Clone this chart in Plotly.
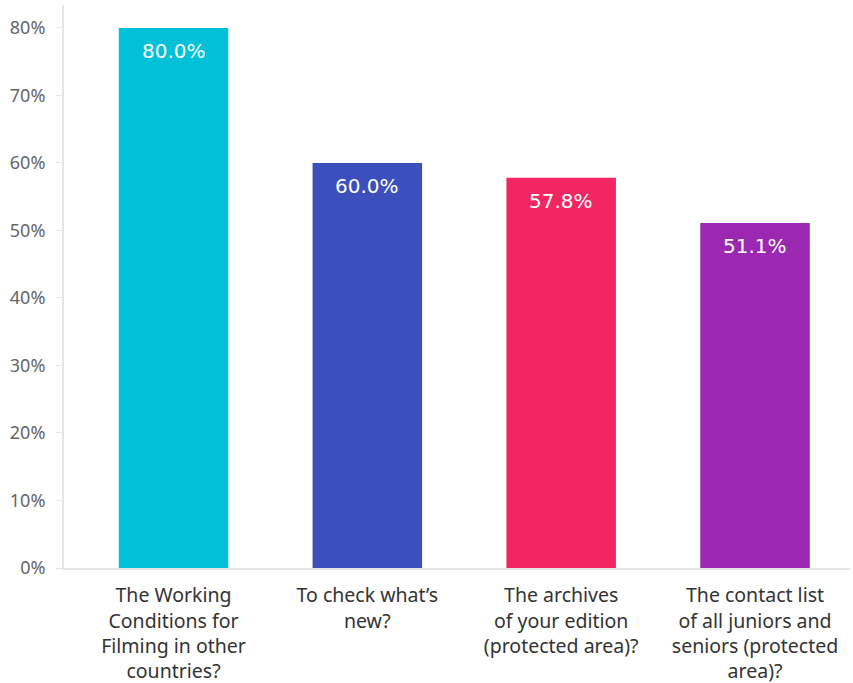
import plotly.graph_objects as go

categories = [
    "The Working<br>Conditions for<br>Filming in other<br>countries?",
    "To check what’s<br>new?",
    "The archives<br>of your edition<br>(protected area)?",
    "The contact list<br>of all juniors and<br>seniors (protected<br>area)?",
]
values = [80.0, 60.0, 57.8, 51.1]
colors = ["#00C1D8", "#3B4FBD", "#F22762", "#9C27B0"]
y_ticks = [0, 10, 20, 30, 40, 50, 60, 70, 80]
y_tick_labels = [f"{t}%" for t in y_ticks]

x_idx = list(range(len(categories)))

fig = go.Figure()
fig.add_trace(go.Bar(
    x=x_idx,
    y=values,
    marker=dict(color=colors, line=dict(width=0)),
    width=0.565,
    hoverinfo="skip",
))

for i, v in zip(x_idx, values):
    fig.add_annotation(
        x=i, y=v, text=f"{v:.1f}%", showarrow=False,
        yanchor="top", yshift=-9,
        font=dict(family="DejaVu Sans", size=20, color="white"),
    )

fig.update_layout(
    width=853, height=683,
    margin=dict(l=64, r=3, t=5, b=115),
    plot_bgcolor="white", paper_bgcolor="white",
    showlegend=False,
    bargap=0.4,
)
fig.update_xaxes(
    tickmode="array", tickvals=x_idx, ticktext=categories,
    range=[-0.565, 3.49],
    showline=True, linecolor="#E6E6E6", linewidth=2,
    showgrid=False, zeroline=False, ticks="",
    ticklabelstandoff=9, automargin=False,
    tickfont=dict(family="Noto Sans", size=19.5, color="#333333"),
)
fig.update_yaxes(
    tickmode="array", tickvals=y_ticks, ticktext=y_tick_labels,
    range=[0, 83.4],
    showline=True, linecolor="#E6E6E6", linewidth=2,
    showgrid=False, zeroline=False,
    ticks="outside", ticklen=6, tickcolor="#E6E6E6", tickwidth=1,
    ticklabelstandoff=7, automargin=False,
    tickfont=dict(family="Noto Sans", size=18, color="#666666"),
)

fig.write_html("out.html")
